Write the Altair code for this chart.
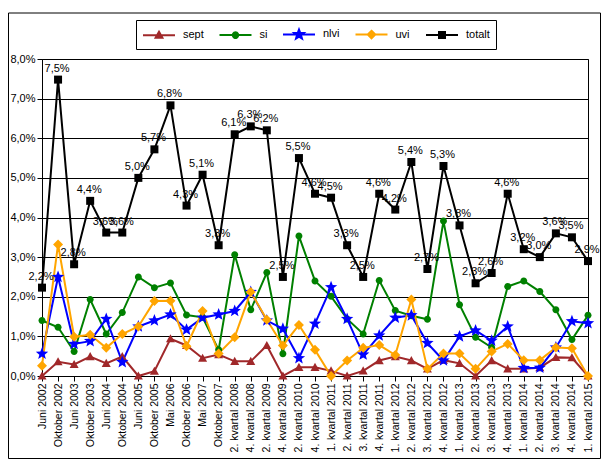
import math
import altair as alt
import pandas as pd

FONT = "Liberation Sans"

periods = [
    "Juni 2002", "Oktober 2002", "Juni 2003", "Oktober 2003", "Juni 2004",
    "Oktober 2004", "Juni 2005", "Oktober 2005", "Mai 2006", "Oktober 2006",
    "Mai 2007", "Oktober 2007", "2. kvartal 2008", "4. kvartal 2008",
    "2. kvartal 2009", "4. kvartal 2009", "2. kvartal 2010", "4. kvartal 2010",
    "1. kvartal 2011", "2. kvartal 2011", "3. kvartal 2011", "4. kvartal 2011",
    "1. kvartal 2012", "2. kvartal 2012", "3. kvartal 2012", "4. kvartal 2012",
    "1. kvartal 2013", "2. kvartal 2013", "3. kvartal 2013", "4. kvartal 2013",
    "1. kvartal 2014", "2. kvartal 2014", "3. kvartal 2014", "4. kvartal 2014",
    "1. kvartal 2015",
]

sept = [0.0, 0.36, 0.29, 0.49, 0.32, 0.49, 0.0, 0.12, 0.94, 0.77, 0.45, 0.54,
        0.37, 0.37, 0.77, 0.0, 0.22, 0.22, 0.13, 0.0, 0.13, 0.39, 0.49, 0.39,
        0.18, 0.40, 0.32, 0.0, 0.39, 0.18, 0.18, 0.21, 0.47, 0.46, 0.0]
si = [1.40, 1.23, 0.62, 1.93, 1.06, 1.60, 2.50, 2.23, 2.35, 1.54, 1.48, 0.66,
      3.06, 1.67, 2.61, 0.56, 3.53, 2.40, 2.01, 1.44, 1.06, 2.41, 1.65, 1.52,
      1.43, 3.91, 1.80, 0.98, 0.72, 2.26, 2.40, 2.13, 1.67, 0.92, 1.53]
nlvi = [0.56, 2.50, 0.81, 0.88, 1.44, 0.35, 1.25, 1.40, 1.55, 1.17, 1.47, 1.55,
        1.64, 2.12, 1.40, 1.19, 0.45, 1.32, 2.24, 1.44, 0.54, 1.02, 1.47, 1.53,
        0.83, 0.39, 1.00, 1.15, 0.89, 1.25, 0.20, 0.21, 0.72, 1.38, 1.33]
uvi = [0.26, 3.32, 0.99, 1.04, 0.71, 1.06, 1.25, 1.89, 1.90, 0.75, 1.64, 0.57,
       0.98, 2.12, 1.42, 0.77, 1.29, 0.66, 0.0, 0.39, 0.71, 0.78, 0.53, 1.93,
       0.18, 0.57, 0.57, 0.18, 0.62, 0.81, 0.40, 0.40, 0.72, 0.70, 0.0]
totalt = [2.23, 7.48, 2.82, 4.42, 3.62, 3.62, 5.0, 5.72, 6.83, 4.3, 5.08, 3.3,
          6.1, 6.3, 6.2, 2.5, 5.5, 4.6, 4.5, 3.3, 2.5, 4.6, 4.2, 5.4,
          2.7, 5.3, 3.8, 2.34, 2.6, 4.6, 3.2, 3.0, 3.6, 3.5, 2.9]

series_names = ["sept", "si", "nlvi", "uvi", "totalt"]
colors = ["#A0282A", "#008000", "#0000FF", "#FFA500", "#000000"]

rows = []
for name, vals in zip(series_names, [sept, si, nlvi, uvi, totalt]):
    for p, v in zip(periods, vals):
        rows.append({"period": p, "series": name, "value": v})
df = pd.DataFrame(rows)


# ---- marker shapes (style only) ----
def poly(pts, dx=0.0, k=1.0):
    return "M" + "L".join(f"{(x + dx) / k:.3f},{y / k:.3f}" for x, y in pts) + "Z"


def circ(r, dx=0.0, k=1.0):
    cx = dx / k
    rr = r / k
    return (f"M{cx - rr:.3f},0A{rr:.3f},{rr:.3f} 0 1,0 {cx + rr:.3f},0"
            f"A{rr:.3f},{rr:.3f} 0 1,0 {cx - rr:.3f},0Z")


def star(ro, ri):
    pts = []
    for j in range(10):
        a = -math.pi / 2 + j * math.pi / 5
        r = ro if j % 2 == 0 else ri
        pts.append((r * math.cos(a), r * math.sin(a)))
    return pts


def tri(s):
    return [(0, -s), (s, s * 0.8), (-s, s * 0.8)]


def diamond(s):
    return [(0, -s), (s, 0), (0, s), (-s, 0)]


def square(s):
    return [(-s, -s), (s, -s), (s, s), (-s, s)]


plot_paths = [
    poly(tri(4.5)),
    circ(3.5),
    poly(star(6.5, 2.8)),
    poly(diamond(5)),
    poly(square(4)),
]

# legend symbols: stroke only (2 px), so markers are drawn as nested outlines
K = 7.0   # symbol size 196 -> 7 px per unit
MX = 9.0  # marker centre along the legend line
line = f"M{-7 / K:.3f},0H{25 / K:.3f}"
legend_paths = [
    line + poly(tri(3.4), MX, K) + poly(tri(1.6), MX, K) + poly(tri(0.3), MX, K),
    line + circ(2.7, MX, K) + circ(0.9, MX, K),
    line + poly(star(5.0, 2.1), MX, K) + circ(1.1, MX, K),
    line + poly(diamond(3.8), MX, K) + poly(diamond(1.9), MX, K) + poly(diamond(0.3), MX, K),
    line + poly(square(3), MX, K) + poly(square(1), MX, K),
]

x_enc = alt.X(
    "period:N", sort=periods, title=None,
    scale=alt.Scale(type="point", padding=0),
    axis=alt.Axis(labelAngle=270, labelFontSize=10.5, labelOverlap=False,
                  tickSize=5, labelPadding=2, grid=False),
)
y_enc = alt.Y(
    "value:Q", title=None,
    scale=alt.Scale(domain=[0, 8], nice=False),
    axis=alt.Axis(values=list(range(9)), grid=True, gridColor="black",
                  gridOpacity=1, gridWidth=1, tickSize=5, labelPadding=2,
                  labelFontSize=11,
                  labelExpr="replace(format(datum.value, '.1f'), '.', ',') + '%'"),
)

series_layers = []
for name, col, path in zip(series_names, colors, plot_paths):
    base = alt.Chart(df).transform_filter(f"datum.series == '{name}'")
    series_layers.append(base.mark_line(strokeWidth=2, color=col).encode(x=x_enc, y=y_enc))
for name, col, path in zip(series_names, colors, plot_paths):
    base = alt.Chart(df).transform_filter(f"datum.series == '{name}'")
    series_layers.append(
        base.mark_point(filled=True, size=4, opacity=1, strokeWidth=0, shape=path, color=col)
        .encode(x=x_enc, y=y_enc)
    )

leg = alt.Legend(
    orient="none", legendX=94, legendY=-39, direction="horizontal", title=None,
    symbolSize=196, symbolStrokeWidth=2, symbolOpacity=1, gridAlign="each",
    labelFont=FONT, labelFontSize=11, labelColor="black", labelOffset=25,
    columnPadding=11.5, padding=6, strokeColor="black", fillColor="white",
)

legend_layer = alt.Chart(df).mark_point(filled=False, size=196, opacity=0, strokeWidth=2).encode(
    x=x_enc, y=y_enc,
    color=alt.Color("series:N", scale=alt.Scale(domain=series_names, range=colors),
                    legend=leg),
    shape=alt.Shape("series:N", scale=alt.Scale(domain=series_names, range=legend_paths),
                    legend=leg),
)

labels = alt.Chart(df).transform_filter(
    "datum.series == 'totalt'"
).transform_calculate(
    lbl="replace(format(datum.value, '.1f'), '.', ',') + '%'"
).mark_text(
    dy=-11, dx=-1, baseline="middle", align="center", font=FONT, fontSize=11, color="black"
).encode(x=x_enc, y=y_enc, text="lbl:N")

frame = alt.Chart(pd.DataFrame({"a": [0]})).mark_rect(
    fill="transparent", stroke="black", strokeWidth=1
).encode(
    x=alt.value(-33.5), x2=alt.value(558.5), y=alt.value(-46), y2=alt.value(399.5)
)

chart = alt.layer(frame, *series_layers, legend_layer, labels).properties(
    width=546, height=317,
    autosize=alt.AutoSizeParams(type="none"),
    padding={"left": 34, "top": 51, "right": 13, "bottom": 83},
    background="white",
).configure_view(
    stroke="black", strokeWidth=1
).configure_axis(
    labelFont=FONT, labelColor="black", domainColor="black", tickColor="black",
    domainWidth=1, tickWidth=1,
).configure_text(font=FONT)

chart.save("out.html", embed_options={"renderer": "svg", "actions": False})
